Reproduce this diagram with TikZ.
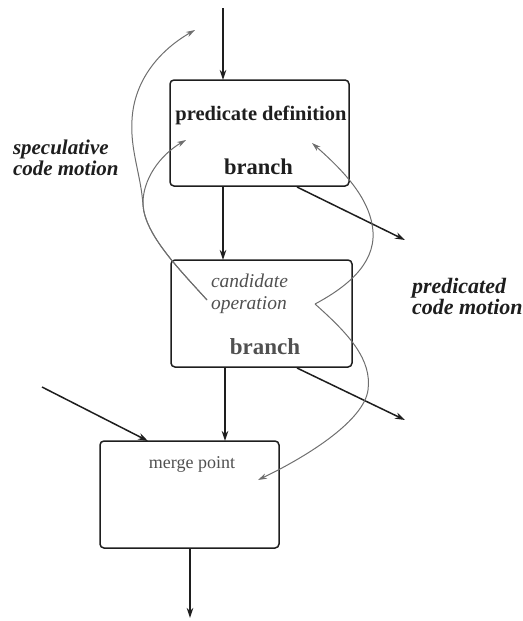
\documentclass[tikz,border=0pt]{standalone}
\usepackage{fontspec}
\setmainfont{Liberation Serif}
\usetikzlibrary{arrows.meta}
\definecolor{inkdark}{HTML}{1E1E1E}
\definecolor{inkgray}{HTML}{505050}
\definecolor{curvegray}{HTML}{6E6E6E}
\tikzset{
  block/.style={draw=inkdark, line width=1.5pt, rounded corners=4pt, inner sep=0pt, outer sep=0pt},
  flow/.style={draw=inkdark, line width=1.5pt, -{Stealth[length=10pt,width=6.5pt]}},
  motion/.style={draw=curvegray, line width=1pt, -{Stealth[length=9pt,width=5.5pt]}},
  label/.style={inner sep=0pt, outer sep=0pt},
}
\newcommand{\fsz}[2]{\fontsize{#1}{#2}\selectfont}
\begin{document}
\begin{tikzpicture}[x=1pt,y=-1pt]
\useasboundingbox (0,0) rectangle (522,621);

% blocks
\node[block, minimum width=179pt, minimum height=106pt] (pd) at (259.5,133) {};
\node[block, minimum width=181pt, minimum height=107pt] (co) at (261.5,313.5) {};
\node[block, minimum width=179pt, minimum height=107pt] (mp) at (189.5,494.5) {};

% block texts
\node[label, anchor=base, text=inkdark] (pdtext) at (261,120.5) {\fsz{20.5}{22}\bfseries predicate definition};
\node[label, anchor=base, text=inkdark] (br1) at (258.5,174) {\fsz{22.5}{24}\bfseries branch};
\node[label, anchor=base west, text=inkgray] (cand) at (211,287) {\fsz{19.5}{21}\itshape candidate};
\node[label, anchor=base west, text=inkgray] (oper) at (211,309) {\fsz{19.5}{21}\itshape operation};
\node[label, anchor=base, text=inkgray] (br2) at (265,354) {\fsz{23}{24}\bfseries branch};
\node[label, anchor=base, text=inkgray] (mptext) at (192,468) {\fsz{18}{20}merge point};

% side labels
\node[label, anchor=base west, align=left, text=inkdark,
      font=\fontsize{21}{18.5}\selectfont\bfseries\itshape] (spec) at (13,175)
  {speculative\\code motion};
\node[label, anchor=base west, align=left, text=inkdark,
      font=\fontsize{22}{18.5}\selectfont\bfseries\itshape] (pred) at (412,314)
  {predicated\\code motion};

% free ends of the control-flow edges
\coordinate (entry) at (223,8);
\coordinate (exit1) at (405,240);
\coordinate (exit2) at (405,420);
\coordinate (side) at (42,387);
\coordinate (out) at (190,618);
\coordinate (b1src) at (297,187);
\coordinate (b2src) at (297,368);
\coordinate (sideend) at (148,441);

% control flow
\draw[flow] (entry) -- (entry |- pd.north);
\draw[flow] (223,0 |- pd.south) -- (223,0 |- co.north);
\draw[flow] (225,0 |- co.south) -- (225,0 |- mp.north);
\draw[flow] (190,0 |- mp.south) -- (out);
\draw[flow] (b1src) -- (exit1);
\draw[flow] (b2src) -- (exit2);
\draw[flow] (side) -- (sideend);

% code motion paths
\coordinate (specsrc) at (207,300);
\coordinate (fork) at (143,205);
\coordinate (bend) at (132,120);
\coordinate (spectop) at (195,30);
\coordinate (specin) at (186,140);
\coordinate (predsrc) at (315,304);
\coordinate (upturn) at (373,232);
\coordinate (predin) at (312,143);
\coordinate (downturn) at (368,390);
\coordinate (mergein) at (258,480);

\draw[motion] (specsrc) .. controls (180,270) and (145,235) .. (fork)
  .. controls (141,175) and (130,150) .. (bend)
  .. controls (134,80) and (160,50) .. (spectop);
\draw[motion] (specsrc) .. controls (180,270) and (145,235) .. (fork)
  .. controls (142,180) and (160,155) .. (specin);

\draw[motion] (predsrc) .. controls (345,288) and (375,265) .. (upturn)
  .. controls (371,200) and (345,172) .. (predin);
\draw[motion] (predsrc) .. controls (350,335) and (372,360) .. (downturn)
  .. controls (364,420) and (310,455) .. (mergein);
\end{tikzpicture}
\end{document}
